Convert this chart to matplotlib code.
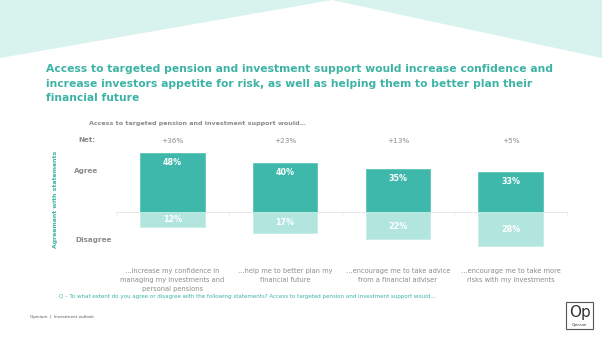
import matplotlib
matplotlib.use("Agg")
import matplotlib.pyplot as plt
from matplotlib.patches import Polygon, Rectangle

# ---- data ----
categories = ["…increase my confidence in\nmanaging my investments and\npersonal pensions",
              "…help me to better plan my\nfinancial future",
              "…encourage me to take advice\nfrom a financial adviser",
              "…encourage me to take more\nrisks with my investments"]
agree = [48, 40, 35, 33]
disagree = [12, 17, 22, 28]
net_labels = ["+36%", "+23%", "+13%", "+5%"]

title_lines = ["Access to targeted pension and investment support would increase confidence and",
               "increase investors appetite for risk, as well as helping them to better plan their",
               "financial future"]
subtitle = "Access to targeted pension and investment support would…"
footnote = "Q – To what extent do you agree or disagree with the following statements? Access to targeted pension and investment support would…"
source = "Opinium  |  Investment outlook"

# ---- style ----
W, H = 602, 339
TEAL = "#3fb8ac"
LIGHT = "#b3e5df"
BG = "#d8f2ee"
TITLE_C = "#3db3a5"
GRAY = "#8c8c8c"
DGRAY = "#595959"

fig = plt.figure(figsize=(W / 100, H / 100), dpi=100)
fig.patch.set_facecolor("white")

def fx(x):
    return x / W

def fy(y):
    return 1 - y / H

# background chevron
fig.patches.append(Polygon([(fx(0), fy(0)), (fx(0), fy(58)), (fx(332), fy(0))],
                           closed=True, transform=fig.transFigure, facecolor=BG, edgecolor="none", zorder=0))
fig.patches.append(Polygon([(fx(332), fy(0)), (fx(602), fy(58)), (fx(602), fy(0))],
                           closed=True, transform=fig.transFigure, facecolor=BG, edgecolor="none", zorder=0))

# title
for i, line in enumerate(title_lines):
    fig.text(fx(46), fy(69 + 14.7 * i), line, color=TITLE_C, fontsize=7.75, fontweight="bold",
             ha="left", va="center")

# axes geometry: zero at y=212, 1.22 px per %
ppu = 1.22
ymin, ymax = -30, 50
top_px = 212 - ymax * ppu
bot_px = 212 - ymin * ppu
ax = fig.add_axes([fx(116), fy(bot_px), (567 - 116) / W, (bot_px - top_px) / H])
ax.set_xlim(-0.5, len(categories) - 0.5)
ax.set_ylim(ymin, ymax)
ax.patch.set_alpha(0)

x = list(range(len(categories)))
neg = [-d for d in disagree]
ax.bar(x, agree, width=0.57, color=TEAL, edgecolor="#5cc4b9", linewidth=0.6, zorder=3)
ax.bar(x, neg, width=0.57, color=LIGHT, edgecolor="#c6ece7", linewidth=0.6, zorder=3)

for xi, a, d, n in zip(x, agree, disagree, net_labels):
    ax.text(xi, a - 7.8, f"{a}%", ha="center", va="center", color="white", fontsize=5.8, fontweight="bold", zorder=4)
    ax.text(xi, -d / 2 - 0.5, f"{d}%", ha="center", va="center", color="white", fontsize=5.8, fontweight="bold", zorder=4)
    ax.text(xi, (212 - 141.5) / ppu, n, ha="center", va="center", color=GRAY, fontsize=5.2, clip_on=False)

for s in ["top", "right", "left"]:
    ax.spines[s].set_visible(False)
ax.spines["bottom"].set_position(("data", 0))
ax.spines["bottom"].set_color("#e4e4e4")
ax.spines["bottom"].set_linewidth(0.6)
ax.set_xticks([i - 0.5 for i in range(len(categories) + 1)])
ax.set_xticklabels([])
ax.tick_params(axis="x", length=2, width=0.6, color="#e4e4e4")
ax.set_yticks([])

# category labels
for xi, c in zip(x, categories):
    px = 116 + (xi + 0.5) * (567 - 116) / len(categories)
    fig.text(fx(px), fy(268.5), c, ha="center", va="top", color=GRAY, fontsize=4.8, linespacing=1.5)

# left labels
fig.text(fx(89), fy(123), subtitle, ha="left", va="center", color=GRAY, fontsize=4.55, fontweight="bold")
fig.text(fx(78), fy(140.5), "Net:", ha="left", va="center", color=GRAY, fontsize=5.2, fontweight="bold")
fig.text(fx(74), fy(171.5), "Agree", ha="left", va="center", color=GRAY, fontsize=5.2, fontweight="bold")
fig.text(fx(75), fy(240), "Disagree", ha="left", va="center", color=GRAY, fontsize=5.2, fontweight="bold")
fig.text(fx(56), fy(199), "Agreement with statements", ha="center", va="center", rotation=90,
         color=TITLE_C, fontsize=4.4, fontweight="bold")

# footnotes
fig.text(fx(59), fy(296.5), footnote, ha="left", va="center", color=TITLE_C, fontsize=4.0)
fig.text(fx(30), fy(317), source, ha="left", va="center", color=DGRAY, fontsize=3.0)

# logo
fig.patches.append(Rectangle((fx(566), fy(329)), (593 - 566) / W, (329 - 302) / H,
                             transform=fig.transFigure, facecolor="white", edgecolor="#555555", linewidth=0.8))
fig.text(fx(579.5), fy(313), "Op", ha="center", va="center", color="#333333", fontsize=11)
fig.text(fx(579.5), fy(325), "Opinium", ha="center", va="center", color="#333333", fontsize=2.6)

fig.savefig("out.png", dpi=100)
